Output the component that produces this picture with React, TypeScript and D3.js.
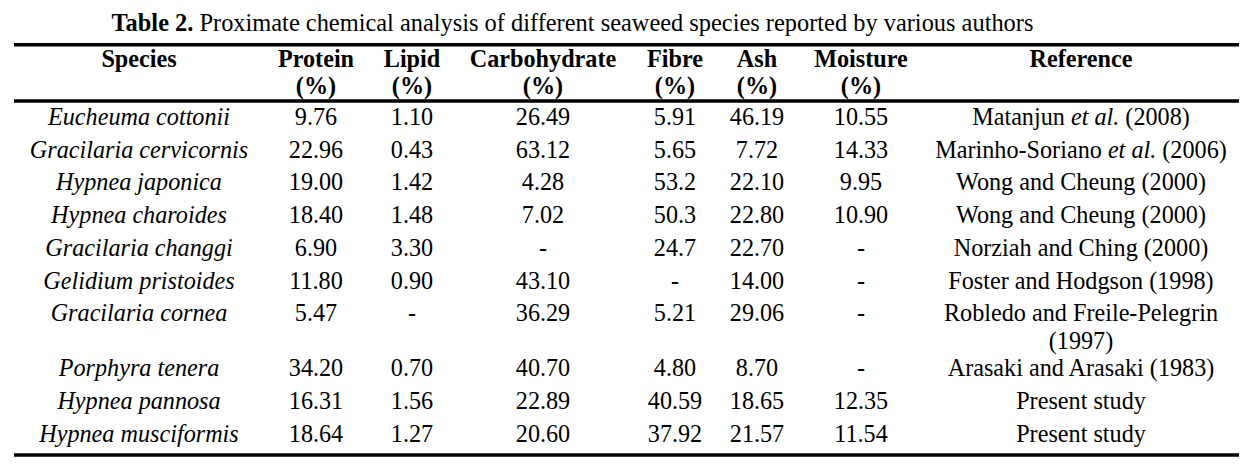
import React from "react";
import * as d3 from "d3";

const titleBold = "Table 2.";
const titleRest = " Proximate chemical analysis of different seaweed species reported by various authors";

const columns = ["species", "protein", "lipid", "carbohydrate", "fibre", "ash", "moisture", "reference"];
const headerLine1 = ["Species", "Protein", "Lipid", "Carbohydrate", "Fibre", "Ash", "Moisture", "Reference"];
const headerLine2 = ["", "(%)", "(%)", "(%)", "(%)", "(%)", "(%)", ""];

const species = [
  "Eucheuma cottonii",
  "Gracilaria cervicornis",
  "Hypnea japonica",
  "Hypnea charoides",
  "Gracilaria changgi",
  "Gelidium pristoides",
  "Gracilaria cornea",
  "Porphyra tenera",
  "Hypnea pannosa",
  "Hypnea musciformis",
];
const protein = ["9.76", "22.96", "19.00", "18.40", "6.90", "11.80", "5.47", "34.20", "16.31", "18.64"];
const lipid = ["1.10", "0.43", "1.42", "1.48", "3.30", "0.90", "-", "0.70", "1.56", "1.27"];
const carbohydrate = ["26.49", "63.12", "4.28", "7.02", "-", "43.10", "36.29", "40.70", "22.89", "20.60"];
const fibre = ["5.91", "5.65", "53.2", "50.3", "24.7", "-", "5.21", "4.80", "40.59", "37.92"];
const ash = ["46.19", "7.72", "22.10", "22.80", "22.70", "14.00", "29.06", "8.70", "18.65", "21.57"];
const moisture = ["10.55", "14.33", "9.95", "10.90", "-", "-", "-", "-", "12.35", "11.54"];
const references = [
  "Matanjun et al. (2008)",
  "Marinho-Soriano et al. (2006)",
  "Wong and Cheung (2000)",
  "Wong and Cheung (2000)",
  "Norziah and Ching (2000)",
  "Foster and Hodgson (1998)",
  "Robledo and Freile-Pelegrin\n(1997)",
  "Arasaki and Arasaki (1983)",
  "Present study",
  "Present study",
];

const W = 1244;
const H = 471;
const FONT = "'Liberation Serif', 'Times New Roman', serif";
const FS = 24.2;

const colX = d3
  .scaleOrdinal<string, number>()
  .domain(columns)
  .range([139, 316, 412, 543, 675, 757, 861, 1081]);

const ROW_H = 32.7;
const LINE_H = 27.5;
const EXTRA_LINE = 22.3;

function renderRef(text: string) {
  const parts = text.split(/(et al\.)/);
  return parts.map((p, i) =>
    p === "et al." ? (
      <tspan key={i} fontStyle="italic">
        {p}
      </tspan>
    ) : (
      <tspan key={i}>{p}</tspan>
    )
  );
}

export default function App() {
  const lineCounts = references.map((r) => r.split("\n").length);
  const rowHeights = lineCounts.map((n) => ROW_H + (n - 1) * EXTRA_LINE);
  const firstBaseline = 125;
  const offsets = [0, ...Array.from(d3.cumsum(rowHeights))];
  const rowY = d3
    .scaleLinear()
    .domain([0, 1])
    .range([firstBaseline, firstBaseline + 1]);

  const valueCols: [string, string[]][] = [
    ["protein", protein],
    ["lipid", lipid],
    ["carbohydrate", carbohydrate],
    ["fibre", fibre],
    ["ash", ash],
    ["moisture", moisture],
  ];

  const left = 14;
  const right = 1239;

  return (
    <svg
      width={W}
      height={H}
      style={{ position: "absolute", left: 0, top: 0, background: "#fff" }}
      fontFamily={FONT}
      fontSize={FS}
    >
      <rect x={0} y={0} width={W} height={H} fill="#fff" />
      <text x={572.5} y={31} textAnchor="middle" fill="#000" fontSize={24.4}>
        <tspan fontWeight="bold">{titleBold}</tspan>
        <tspan>{titleRest}</tspan>
      </text>

      <line x1={left} x2={right} y1={44.7} y2={44.7} stroke="#000" strokeWidth={3.5} />
      <line x1={left} x2={right} y1={101} y2={101} stroke="#000" strokeWidth={3.5} />
      <line x1={left} x2={right} y1={455} y2={455} stroke="#000" strokeWidth={3.5} />

      {columns.map((c, i) => (
        <g key={c} fontWeight="bold" textAnchor="middle" fill="#000">
          <text x={colX(c)} y={67}>
            {headerLine1[i]}
          </text>
          {headerLine2[i] && (
            <text x={colX(c)} y={94}>
              {headerLine2[i]}
            </text>
          )}
        </g>
      ))}

      {species.map((s, r) => {
        const y = rowY(offsets[r]);
        return (
          <g key={s} textAnchor="middle" fill="#000">
            <text x={colX("species")} y={y} fontStyle="italic">
              {s}
            </text>
            {valueCols.map(([c, vals]) => (
              <text key={c} x={colX(c)} y={y}>
                {vals[r]}
              </text>
            ))}
            {references[r].split("\n").map((line, li) => (
              <text key={li} x={colX("reference")} y={y + li * LINE_H}>
                {renderRef(line)}
              </text>
            ))}
          </g>
        );
      })}
    </svg>
  );
}
